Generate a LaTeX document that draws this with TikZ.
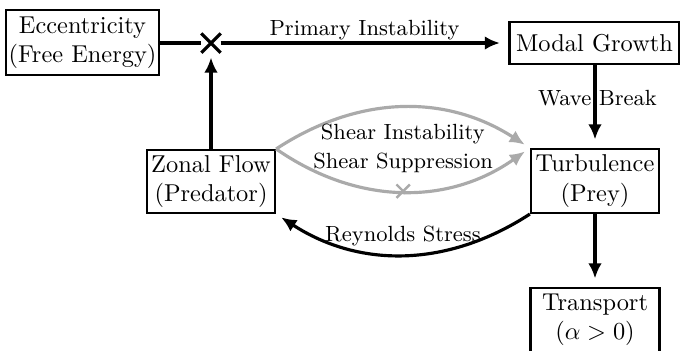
\documentclass[tikz,border=0pt]{standalone}
\usetikzlibrary{arrows.meta,shapes.misc}
\definecolor{lg}{RGB}{170,170,170}
\begin{document}
\begin{tikzpicture}[x=0.41pt,y=-0.41pt,
  box/.style={draw, line width=0.9pt, align=center, inner sep=1pt},
  conn/.style={line width=1.3pt},
  flow/.style={line width=1.3pt, -{Latex[length=6.2pt,width=5.6pt]}},
  gflow/.style={line width=1.3pt, draw=lg, -{Latex[length=6.2pt,width=5.6pt]}},
  xmark/.style={cross out, draw, line width=1.3pt, minimum size=5.5pt, inner sep=0pt, outer sep=1.2pt},
  lbl/.style={inner sep=1.5pt, font=\small}
]
\useasboundingbox (0,0) rectangle (680,350);
\clip (0,0) rectangle (680,350);
\node[box, minimum width=61.9pt, minimum height=26.6pt] (ecc) at (82.5,42.5) {Eccentricity\\(Free Energy)};
\node[box, minimum width=69.7pt, minimum height=17.2pt] (modal) at (594.5,43) {Modal Growth};
\node[box, minimum width=52.5pt, minimum height=26.2pt] (turb) at (595,181) {Turbulence\\(Prey)};
\node[box, minimum width=52.5pt, minimum height=25.8pt] (zonal) at (211,181.5) {Zonal Flow\\(Predator)};
\node[box, minimum width=52.9pt, minimum height=26.2pt] (trans) at (595,320) {Transport\\($\alpha>0$)};
\node[xmark] (x1) at (211,43) {};

\draw[conn] (ecc.east |- x1) -- (x1);
\draw[flow, shorten >=3.5pt] (x1) -- node[above, lbl, inner sep=0.6pt] {Primary Instability} (modal.west |- x1);
\draw[flow, shorten >=2pt] (zonal) -- (x1);
\draw[flow, shorten >=3.5pt] (modal.south -| turb) -- node[pos=0.4, lbl, xshift=1pt] {Wave Break} (turb.north);
\draw[flow, shorten >=3.5pt] (turb) -- (trans);

\draw[gflow, shorten >=2.5pt] (zonal.north east) to[bend left=33] node[midway, below, lbl, inner sep=6pt] {Shear Instability} (turb.north west);
\draw[gflow, shorten >=2.5pt] (zonal.north east) to[bend right=35] node[midway, above, lbl, inner sep=6.8pt] {Shear Suppression} node[midway, xmark, draw=lg, outer sep=0pt, minimum size=5.5pt, line width=1pt] (gx) {} (turb.north west);
\draw[flow, shorten >=2.5pt] (turb.south west) to[bend left=33] node[midway, above, lbl, inner sep=3pt] {Reynolds Stress} (zonal.south east);
\end{tikzpicture}
\end{document}
